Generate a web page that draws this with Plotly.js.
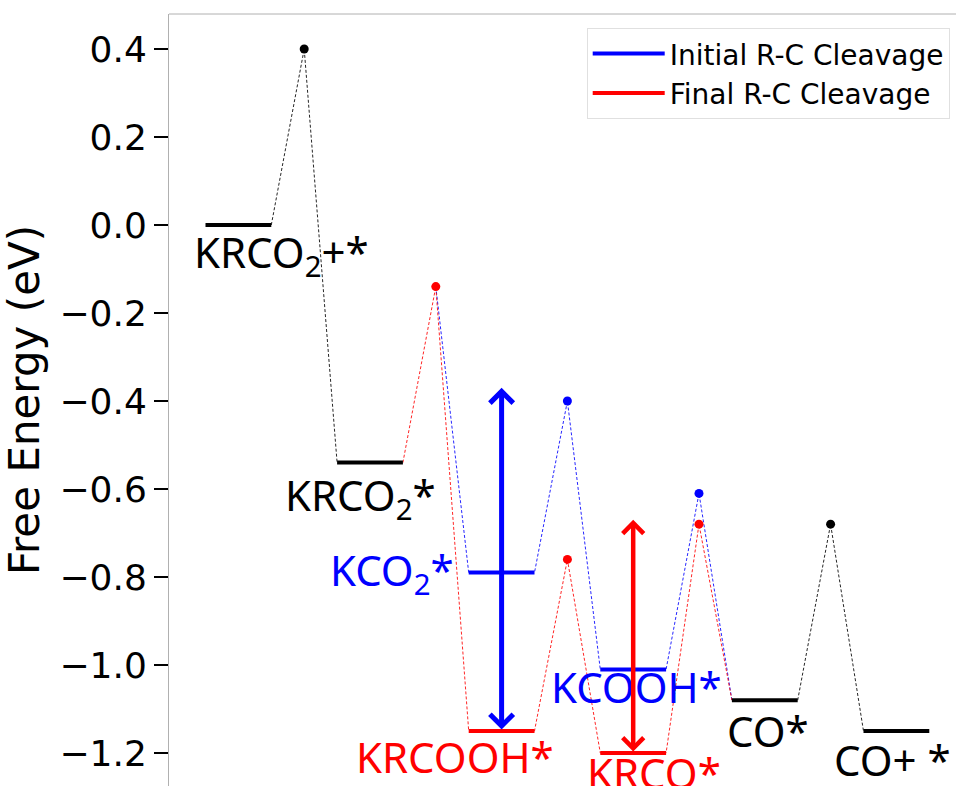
<!DOCTYPE html>
<html><head><meta charset="utf-8">
<script src="https://cdn.plot.ly/plotly-3.0.1.min.js"></script>
<style>html,body{margin:0;padding:0;background:#fff;}#chart{width:956px;height:786px;}</style>
</head><body><div id="chart"></div>
<script>
// ---- data ----
const blackSteps = [0, 1, 4, 5];
const blackEnergies = [0.00, -0.54, -1.08, -1.15];
const blackLabels = ['KRCO<sub>2</sub>+*', 'KRCO<sub>2</sub>*', 'CO*', 'CO+ *'];
const blueSteps = [2, 3];
const blueEnergies = [-0.79, -1.01];
const blueLabels = ['KCO<sub>2</sub>*', 'KCOOH*'];
const redSteps = [2, 3];
const redEnergies = [-1.15, -1.20];
const redLabels = ['KRCOOH*', 'KRCO*'];
// transition states (between step i and i+1)
const tsBlackAfter = [0, 4];
const tsBlackEnergies = [0.40, -0.68];
const tsRedAfter = [1, 2, 3];
const tsRedEnergies = [-0.14, -0.76, -0.68];
const tsBlueAfter = [2, 3];
const tsBlueEnergies = [-0.40, -0.61];
// barrier arrows
const blueArrowStep = 2, blueArrowFrom = -1.15, blueArrowTo = -0.37;
const redArrowStep = 3, redArrowFrom = -1.20, redArrowTo = -0.67;
const legendNames = ['Initial R-C Cleavage', 'Final R-C Cleavage'];

// ---- helpers ----
const W = 0.5;  // level width (step units)
function levelTrace(steps, energies, color) {
  const x = [], y = [];
  steps.forEach((s, i) => { x.push(s, s + W, null); y.push(energies[i], energies[i], null); });
  return {type:'scatter', mode:'lines', x, y, line:{color, width:4}, showlegend:false, hoverinfo:'skip'};
}
function pathTrace(points, color) {
  return {type:'scatter', mode:'lines', x:points.map(p=>p[0]), y:points.map(p=>p[1]),
    line:{color, width:1, dash:'3px,2px'}, opacity:0.85, showlegend:false, hoverinfo:'skip'};
}
function dotTrace(after, energies, color) {
  return {type:'scatter', mode:'markers', x:after.map(a=>a+0.75), y:energies,
    marker:{color, size:9}, showlegend:false, hoverinfo:'skip'};
}
const eBlack = s => blackEnergies[blackSteps.indexOf(s)];
const eBlue = s => blueEnergies[blueSteps.indexOf(s)];
const eRed = s => redEnergies[redSteps.indexOf(s)];
const tsR = a => tsRedEnergies[tsRedAfter.indexOf(a)];
const tsB = a => tsBlueEnergies[tsBlueAfter.indexOf(a)];
const tsK = a => tsBlackEnergies[tsBlackAfter.indexOf(a)];

const blackPath1 = [[0+W, eBlack(0)], [0.75, tsK(0)], [1, eBlack(1)]];
const blackPath2 = [[4+W, eBlack(4)], [4.75, tsK(4)], [5, eBlack(5)]];
const redPath = [[1+W, eBlack(1)], [1.75, tsR(1)], [2, eRed(2)], [2+W, eRed(2)], [2.75, tsR(2)],
  [3, eRed(3)], [3+W, eRed(3)], [3.75, tsR(3)], [4, eBlack(4)]];
const bluePath = [[1.75, tsR(1)], [2, eBlue(2)], [2+W, eBlue(2)], [2.75, tsB(2)],
  [3, eBlue(3)], [3+W, eBlue(3)], [3.75, tsB(3)], [4, eBlack(4)]];

const traces = [
  pathTrace(blackPath1, '#000'), pathTrace(blackPath2, '#000'),
  pathTrace(bluePath, '#0000ff'), pathTrace(redPath, '#ff0000'),
  levelTrace(blackSteps, blackEnergies, '#000'),
  levelTrace(blueSteps, blueEnergies, '#0000ff'),
  levelTrace(redSteps, redEnergies, '#ff0000'),
  dotTrace(tsBlackAfter, tsBlackEnergies, '#000'),
  dotTrace(tsBlueAfter, tsBlueEnergies, '#0000ff'),
  dotTrace(tsRedAfter, tsRedEnergies, '#ff0000'),
  {type:'scatter', mode:'lines', x:[null], y:[null], name:legendNames[0], line:{color:'#0000ff', width:4}},
  {type:'scatter', mode:'lines', x:[null], y:[null], name:legendNames[1], line:{color:'#ff0000', width:4}}
];

// label offsets (step units, energy units) relative to level
const labelFont = {family:'Noto Sans, Open Sans, sans-serif', size:42};
const annotations = [];
function addLabels(steps, energies, labels, color, dx, dy) {
  steps.forEach((s, i) => annotations.push({x:s + dx[i], y:energies[i] + dy[i], xref:'x', yref:'y',
    text:labels[i], showarrow:false, xanchor:'left', yanchor:'middle', font:Object.assign({color}, labelFont)}));
}
addLabels(blackSteps, blackEnergies, blackLabels, '#000', [-0.10, -0.41, -0.05, -0.24], [-0.068, -0.08, -0.068, -0.064]);
addLabels(blueSteps, blueEnergies, blueLabels, '#0000ff', [-1.07, -0.39], [0.0, -0.038]);
addLabels(redSteps, redEnergies, redLabels, '#ff0000', [-0.87, -0.12], [-0.057, -0.044]);
function arrow(step, from, to, color, w) {
  annotations.push({x:step + W/2, y:to, ax:step + W/2, ay:from, xref:'x', yref:'y', axref:'x', ayref:'y',
    text:'', showarrow:true, arrowside:'end+start', arrowhead:4, startarrowhead:4,
    arrowsize:0.9, startarrowsize:0.9, arrowwidth:w, arrowcolor:color, standoff:0, startstandoff:0});
}
arrow(blueArrowStep, blueArrowFrom, blueArrowTo, '#0000ff', 5);
arrow(redArrowStep, redArrowFrom, redArrowTo, '#ff0000', 4.5);

const layout = {
  width:956, height:786,
  margin:{l:169, r:0, t:14, b:0, pad:0},
  paper_bgcolor:'#fff', plot_bgcolor:'#fff',
  showlegend:true,
  legend:{x:0.992, xanchor:'right', y:0.982, yanchor:'top', bgcolor:'#fff',
    bordercolor:'#e0e0e0', borderwidth:1, itemwidth:72,
    font:{family:'DejaVu Sans', size:28, color:'#000'}},
  xaxis:{range:[-0.2774, 5.703], showgrid:false, zeroline:false, showticklabels:false, ticks:'', showline:false, fixedrange:true},
  yaxis:{range:[-1.275, 0.4795], tickvals:[-1.2,-1.0,-0.8,-0.6,-0.4,-0.2,0.0,0.2,0.4], tickformat:'.1f',
    showgrid:false, zeroline:false, ticks:'outside', ticklen:14, tickwidth:2.5, tickcolor:'#000',
    showline:true, linecolor:'#b0b0b0', linewidth:1,
    tickfont:{family:'DejaVu Sans', size:36, color:'#000'},
    title:{text:'Free Energy (eV)', font:{family:'DejaVu Sans', size:42, color:'#000'}, standoff:10}},
  yaxis2:{overlaying:'y', side:'left', range:[-1.275, 0.4795], tickvals:[-1.2,-1.0,-0.8,-0.6,-0.4,-0.2,0.0,0.2,0.4],
    showgrid:false, zeroline:false, ticks:'inside', ticklen:15, tickwidth:2.5, tickcolor:'#000',
    showticklabels:false, showline:false},
  shapes:[{type:'line', xref:'paper', yref:'paper', x0:0, x1:1, y0:1, y1:1, line:{color:'#b0b0b0', width:1}}],
  annotations
};
Plotly.newPlot('chart', traces, layout, {displayModeBar:false, staticPlot:true});
</script>
</body></html>
